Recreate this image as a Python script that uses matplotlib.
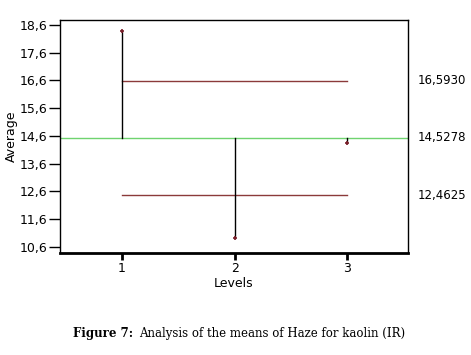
import numpy as np
import matplotlib.pyplot as plt

# analysis of means data
levels = [1, 2, 3]
means = [18.38, 10.91, 14.35]
grand_mean = 14.5278
udl = 16.5930
ldl = 12.4625
yticks = [10.6, 11.6, 12.6, 13.6, 14.6, 15.6, 16.6, 17.6, 18.6]
ytick_labels = ['10,6', '11,6', '12,6', '13,6', '14,6', '15,6', '16,6', '17,6', '18,6']
limit_labels = ['16,5930', '14,5278', '12,4625']

fig = plt.figure(figsize=(4.71, 3.55), dpi=100)
ax = fig.add_axes([60 / 471, 1 - 252.7 / 355, 348 / 471, 233.2 / 355])

# decision limits
ax.plot([levels[0], levels[-1]], [udl, udl], color='#8b3a3a', lw=1.0)
ax.plot([levels[0], levels[-1]], [ldl, ldl], color='#8b3a3a', lw=1.0)
ax.axhline(grand_mean, color='#6fd36f', lw=1.0, zorder=1)

# means as vertical lines from the grand mean
for lv, m in zip(levels, means):
    ax.plot([lv, lv], [grand_mean, m], color='k', lw=1.0)
ax.plot(levels, means, '+', color='#7a1f2a', markersize=3, mew=1.2)

ax.set_xlim(0.45, 3.54)
ax.set_ylim(10.38, 18.8)
ax.set_xticks(levels)
ax.set_xticklabels([str(lv) for lv in levels])
ax.set_yticks(yticks)
ax.set_yticklabels(ytick_labels)
ax.tick_params(axis='y', direction='out', length=8, width=1, labelsize=9, pad=1)
ax.tick_params(axis='x', direction='out', length=5, width=2, labelsize=9, pad=2)
ax.tick_params(right=False, top=False)
ax.spines['bottom'].set_linewidth(2)
for s in ['left', 'right', 'top']:
    ax.spines[s].set_linewidth(1)

ax.set_ylabel('Average', fontsize=9, labelpad=1)
ax.set_xlabel('Levels', fontsize=9, labelpad=1)

# limit values written right of the plot
for val, lab in zip([udl, grand_mean, ldl], limit_labels):
    ax.annotate(lab, xy=(1, val), xycoords=('axes fraction', 'data'),
                xytext=(7, 0), textcoords='offset points', va='center',
                fontsize=8.5, annotation_clip=False)

# caption
fig.text(133 / 471, 1 - 333 / 355, 'Figure 7:', family='DejaVu Serif', weight='bold',
         fontsize=8.5, ha='right', va='center')
fig.text(139 / 471, 1 - 333 / 355, 'Analysis of the means of Haze for kaolin (IR)',
         family='DejaVu Serif', fontsize=8.5, ha='left', va='center')

fig.savefig('out.png', dpi=100)
